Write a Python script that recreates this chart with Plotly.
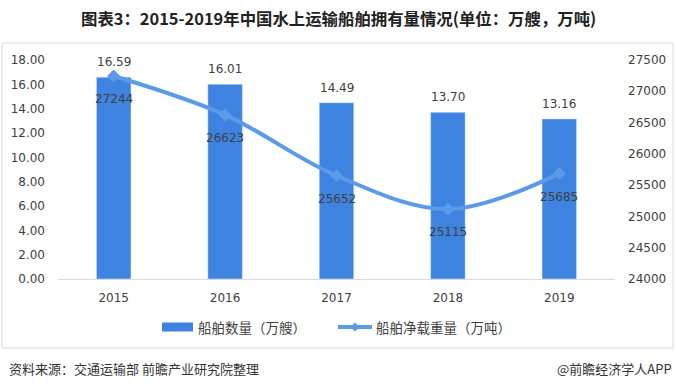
import plotly.graph_objects as go

years = ["2015", "2016", "2017", "2018", "2019"]
ship_count = [16.59, 16.01, 14.49, 13.70, 13.16]
net_tonnage = [27244, 26623, 25652, 25115, 25685]
left_ticks = [0, 2, 4, 6, 8, 10, 12, 14, 16, 18]
right_ticks = [24000, 24500, 25000, 25500, 26000, 26500, 27000, 27500]

title_text = "图表3：2015-2019年中国水上运输船舶拥有量情况(单位：万艘，万吨)"
source_text = "资料来源：交通运输部 前瞻产业研究院整理"
brand_text = "@前瞻经济学人APP"
bar_name = "船舶数量（万艘）"
line_name = "船舶净载重量（万吨）"

FONT = "DejaVu Sans, Noto Sans CJK SC, sans-serif"
CJK = "Noto Sans CJK SC, sans-serif"
BAR_COLOR = "#3F83E0"
LINE_COLOR = "#5B9AE8"
TXT = "#404040"

W, H = 676, 388
L, R, T, B = 58, 61, 60, 109
PH = H - T - B
PW = W - L - R

def py(pix):
    return (H - B - pix) / PH

def px(pix):
    return (pix - L) / PW

fig = go.Figure()
fig.add_trace(go.Bar(
    x=years, y=ship_count, name=bar_name, marker_color=BAR_COLOR,
    width=0.31, yaxis="y", showlegend=False,
))
fig.add_trace(go.Scatter(
    x=years, y=net_tonnage, name=line_name, yaxis="y2", showlegend=False,
    mode="lines+markers", line=dict(color=LINE_COLOR, width=4, shape="spline", smoothing=1.0),
    marker=dict(symbol="diamond", size=10, color=LINE_COLOR),
))

annotations = []
for i, v in enumerate(ship_count):
    annotations.append(dict(x=i, y=v, xref="x", yref="y", text=f"{v:.2f}", showarrow=False,
                            yanchor="middle", yshift=15, font=dict(family=FONT, size=12, color=TXT)))
for i, v in enumerate(net_tonnage):
    annotations.append(dict(x=i, y=v, xref="x", yref="y2", text=str(v), showarrow=False,
                            yanchor="middle", yshift=-23, font=dict(family=FONT, size=12, color=TXT)))

annotations.append(dict(x=px(338), y=py(18), xref="paper", yref="paper", text="<b>" + title_text + "</b>",
                        showarrow=False, xanchor="center", yanchor="middle",
                        font=dict(family=CJK, size=16.4, color="#222222")))
annotations.append(dict(x=px(7), y=py(368), xref="paper", yref="paper", text=source_text,
                        showarrow=False, xanchor="left", yanchor="middle",
                        font=dict(family=CJK, size=13, color="#333333")))
annotations.append(dict(x=px(674), y=py(368), xref="paper", yref="paper", text=brand_text,
                        showarrow=False, xanchor="right", yanchor="middle",
                        font=dict(family=CJK, size=13, color="#333333")))

# custom legend (matches the reference's wide swatch and line-with-diamond key)
LEG_Y = 327
annotations.append(dict(x=px(196), y=py(LEG_Y), xref="paper", yref="paper", text=bar_name,
                        showarrow=False, xanchor="left", yanchor="middle",
                        font=dict(family=CJK, size=13.5, color=TXT)))
annotations.append(dict(x=px(374), y=py(LEG_Y), xref="paper", yref="paper", text=line_name,
                        showarrow=False, xanchor="left", yanchor="middle",
                        font=dict(family=CJK, size=13.5, color=TXT)))

shapes = [
    dict(type="rect", xref="paper", yref="paper",
         x0=px(2), x1=px(673), y0=py(348), y1=py(43),
         line=dict(color="#D9D9D9", width=1), fillcolor="rgba(0,0,0,0)", layer="below"),
    dict(type="rect", xref="paper", yref="paper",
         x0=px(162), x1=px(193), y0=py(LEG_Y + 4.5), y1=py(LEG_Y - 4.5),
         line=dict(width=0), fillcolor=BAR_COLOR),
    dict(type="line", xref="paper", yref="paper",
         x0=px(338), x1=px(372), y0=py(LEG_Y), y1=py(LEG_Y),
         line=dict(color=LINE_COLOR, width=4)),
    dict(type="path", xref="paper", yref="paper",
         path=(f"M {px(355)},{py(LEG_Y - 4.5)} L {px(359.5)},{py(LEG_Y)} "
               f"L {px(355)},{py(LEG_Y + 4.5)} L {px(350.5)},{py(LEG_Y)} Z"),
         line=dict(width=0), fillcolor=LINE_COLOR),
]

fig.update_layout(
    width=W, height=H, margin=dict(l=L, r=R, t=T, b=B, autoexpand=False),
    paper_bgcolor="white", plot_bgcolor="white",
    showlegend=False,
    xaxis=dict(type="category", range=[-0.5, len(years) - 0.5], autorange=False, automargin=False,
               showgrid=False, showline=True, linecolor="#D9D9D9", linewidth=1,
               tickfont=dict(family=FONT, size=12, color=TXT), ticks="", ticklabelstandoff=8),
    yaxis=dict(range=[0, 18], autorange=False, automargin=False, tickvals=left_ticks, tickformat=".2f",
               showgrid=False, zeroline=False, showline=False,
               tickfont=dict(family=FONT, size=12, color=TXT), ticks="", ticklabelstandoff=12),
    yaxis2=dict(range=[24000, 27500], autorange=False, automargin=False, tickvals=right_ticks,
                tickformat="d", overlaying="y", side="right", showgrid=False, zeroline=False,
                showline=False, tickfont=dict(family=FONT, size=12, color=TXT), ticks="",
                ticklabelstandoff=12),
    annotations=annotations, shapes=shapes,
)

fig.write_html("out.html", config={"displayModeBar": False},
               post_script="document.body.style.margin='0';")
